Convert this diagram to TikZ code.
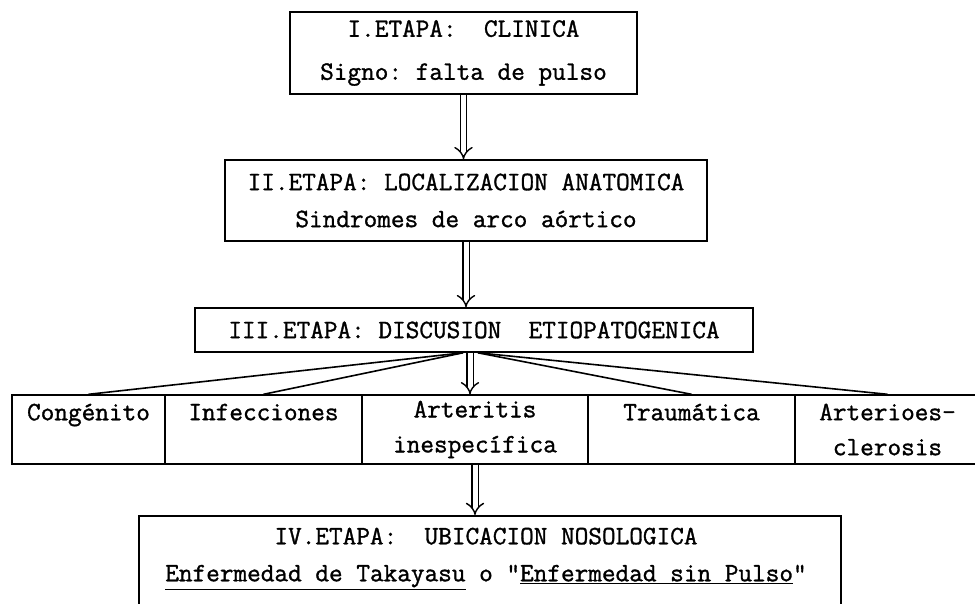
\documentclass[tikz,border=0pt]{standalone}
\usepackage{fontspec}
\setmonofont{Latin Modern Mono}[FakeBold=1.2]
\usetikzlibrary{arrows.meta}

\begin{document}
\begin{tikzpicture}[x=1pt,y=-1pt,
    font=\ttfamily\fontsize{26.5}{30}\selectfont,
    stage/.style={draw,line width=1.6pt,inner sep=0pt,align=center},
    cell/.style={draw,line width=1.4pt,inner sep=0pt,minimum height=69pt,align=center},
    dblarrow/.style={double,double distance=5pt,line width=1.4pt,-{Implies[length=8pt]}},
    fan/.style={line width=1.6pt}]
      \useasboundingbox (0,0) rectangle (975,603);
      \clip (0,0) rectangle (975,603);

      % etapas
      \node[stage,minimum width=347pt,minimum height=82pt] (clinica) at (463.5,53)
        {I.ETAPA:\ \ CLINICA\\[13pt]Signo: falta de pulso};
      \node[stage,minimum width=482pt,minimum height=81pt] (anatomica) at (466,200.5)
        {II.ETAPA: LOCALIZACION ANATOMICA\\[7pt]Sindromes de arco aórtico};
      \node[stage,minimum width=558pt,minimum height=44pt] (etiopat) at (474,330)
        {III.ETAPA: DISCUSION\ \ ETIOPATOGENICA};

      % causas
      \foreach \cx/\cw/\cname/\ctext in {
          88.5/153/cong/{Congénito\\[5pt]\mbox{}},
          263.5/197/infe/{Infecciones\\[5pt]\mbox{}},
          475/226/arte/{Arteritis\\[5pt]inespecífica},
          691.5/207/trau/{Traumática\\[5pt]\mbox{}},
          887.5/185/arsc/{Arterioes-\\[5pt]clerosis}}
        \node[cell,minimum width=\cw pt] (\cname) at (\cx,429.5) {\ctext};

      \node[stage,anchor=north,minimum width=702pt,minimum height=120pt] (nosologica) at (490,515) {};
      \node[align=center] (nosotexto) at (486,558.5)
        {IV.ETAPA:\ \ UBICACION NOSOLOGICA\\[7pt]\underline{Enfermedad de Takayasu} o "\underline{Enfermedad sin Pulso}"};

      % flechas
      \draw[dblarrow] (clinica.south) -- (clinica.south |- anatomica.north);
      \draw[dblarrow] (anatomica.south) -- (anatomica.south |- etiopat.north);
      \draw[dblarrow] ([xshift=-4pt]etiopat.south) -- ([xshift=-4pt]etiopat.south |- arte.north);
      \draw[dblarrow] (arte.south) -- (arte.south |- nosologica.north);

      \foreach \cname in {cong,infe}
        \draw[fan] ([xshift=-11pt]etiopat.south) -- (\cname.north);
      \foreach \cname in {trau,arsc}
        \draw[fan] ([xshift=4pt]etiopat.south) -- (\cname.north);
    \end{tikzpicture}
\end{document}
